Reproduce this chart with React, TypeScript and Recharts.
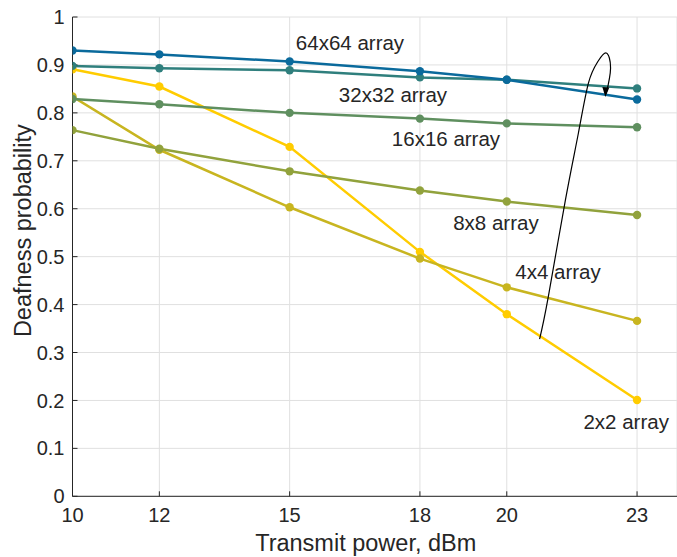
import React from "react";
import {
  ComposedChart,
  Line,
  XAxis,
  YAxis,
  CartesianGrid,
  ReferenceDot,
} from "recharts";

// Transmit power (dBm) at which each array size was evaluated
const powers = [10, 12, 15, 18, 20, 23];

// Deafness probability per array size
const array2x2 = [0.891, 0.855, 0.729, 0.51, 0.38, 0.201];
const array4x4 = [0.834, 0.723, 0.603, 0.496, 0.436, 0.366];
const array8x8 = [0.764, 0.725, 0.678, 0.638, 0.615, 0.587];
const array16x16 = [0.829, 0.818, 0.8, 0.788, 0.778, 0.77];
const array32x32 = [0.898, 0.893, 0.889, 0.874, 0.869, 0.851];
const array64x64 = [0.93, 0.922, 0.907, 0.887, 0.869, 0.828];

const xTicks = [10, 12, 15, 18, 20, 23];
const yTicks = [0, 0.1, 0.2, 0.3, 0.4, 0.5, 0.6, 0.7, 0.8, 0.9, 1];

// Series drawn in this order, so larger arrays sit on top
const series = [
  { key: "a2", name: "2x2 array", values: array2x2, color: "#ffcc00", labelAt: [22.75, 0.157] },
  { key: "a4", name: "4x4 array", values: array4x4, color: "#c8b520", labelAt: [21.18, 0.468] },
  { key: "a8", name: "8x8 array", values: array8x8, color: "#91a23c", labelAt: [19.75, 0.572] },
  { key: "a16", name: "16x16 array", values: array16x16, color: "#5f8f5f", labelAt: [18.6, 0.746] },
  { key: "a32", name: "32x32 array", values: array32x32, color: "#2f7f7d", labelAt: [17.38, 0.839] },
  { key: "a64", name: "64x64 array", values: array64x64, color: "#0a6a9c", labelAt: [16.39, 0.946] },
];

// Hand-drawn arrow sweeping across the curves (in data coordinates)
const arrowPath = [
  { power: 20.756, p: 0.328 },
  { power: 20.956, p: 0.416 },
  { power: 21.35, p: 0.618 },
  { power: 21.65, p: 0.758 },
  { power: 21.88, p: 0.862 },
  { power: 22.09, p: 0.906 },
  { power: 22.29, p: 0.925 },
  { power: 22.39, p: 0.893 },
  { power: 22.29, p: 0.84 },
];
const arrowTip = { power: 22.27, p: 0.833 };

const data = powers.map((power, i) => {
  const row: Record<string, number> = { power };
  series.forEach((s) => {
    row[s.key] = s.values[i];
  });
  return row;
});

const FONT = '"Liberation Sans", Arial, sans-serif';
const INK = "#262626";

export default function App() {
  return (
    <div style={{ position: "absolute", left: 0, top: 0 }}>
      <ComposedChart
        width={677}
        height={557}
        data={data}
        margin={{ top: 17, right: 0, bottom: 0, left: 0 }}
        style={{ fontFamily: FONT, background: "#fff" }}
      >
        <CartesianGrid stroke="#e0e0e0" strokeWidth={1} />
        <XAxis
          type="number"
          dataKey="power"
          domain={[10, 23.92]}
          ticks={xTicks}
          allowDataOverflow
          height={60.7}
          tickSize={-5}
          tickMargin={16.5}
          stroke={INK}
          tick={{ fill: INK, fontSize: 20, fontFamily: FONT }}
          axisLine={{ stroke: INK, strokeWidth: 1 }}
          tickLine={{ stroke: INK }}
          label={{
            content: ({ viewBox }: any) => (
              <text
                x={viewBox.x + viewBox.width / 2 - 9}
                y={viewBox.y + 55}
                textAnchor="middle"
                fontSize={23.5}
                fontFamily={FONT}
                fill={INK}
              >
                Transmit power, dBm
              </text>
            ),
          }}
        />
        <YAxis
          type="number"
          domain={[0, 1]}
          ticks={yTicks}
          width={72.5}
          tickSize={-5}
          tickMargin={13}
          stroke={INK}
          tick={{ fill: INK, fontSize: 20, fontFamily: FONT }}
          axisLine={{ stroke: INK, strokeWidth: 1 }}
          tickLine={{ stroke: INK }}
          label={{
            content: ({ viewBox }: any) => {
              const cx = 23;
              const cy = viewBox.y + viewBox.height / 2 - 26;
              return (
                <text
                  x={cx}
                  y={cy}
                  transform={`rotate(-90, ${cx}, ${cy})`}
                  textAnchor="middle"
                  dominantBaseline="central"
                  fontSize={23.5}
                  fontFamily={FONT}
                  fill={INK}
                >
                  Deafness probability
                </text>
              );
            },
          }}
        />
        {series.map((s) => (
          <Line
            key={s.key}
            dataKey={s.key}
            type="linear"
            stroke={s.color}
            strokeWidth={2.5}
            dot={{ r: 4.2, fill: s.color, stroke: s.color, strokeWidth: 0 }}
            activeDot={false}
            isAnimationActive={false}
          />
        ))}
        <Line
          data={arrowPath}
          dataKey="p"
          type="natural"
          stroke="#000"
          strokeWidth={1.2}
          dot={false}
          activeDot={false}
          isAnimationActive={false}
        />
        <ReferenceDot
          x={arrowTip.power}
          y={arrowTip.p}
          shape={(props: any) => (
            <path
              d={`M${props.cx},${props.cy} L${props.cx - 3},${props.cy - 10} L${props.cx + 4},${props.cy - 9.5} Z`}
              fill="#000"
            />
          )}
        />
        {series.map((s) => (
          <ReferenceDot
            key={`lbl-${s.key}`}
            x={s.labelAt[0]}
            y={s.labelAt[1]}
            shape={(props: any) => (
              <text
                x={props.cx}
                y={props.cy}
                textAnchor="middle"
                dominantBaseline="central"
                fontSize={20.5}
                fontFamily={FONT}
                fill={INK}
              >
                {s.name}
              </text>
            )}
          />
        ))}
      </ComposedChart>
    </div>
  );
}
